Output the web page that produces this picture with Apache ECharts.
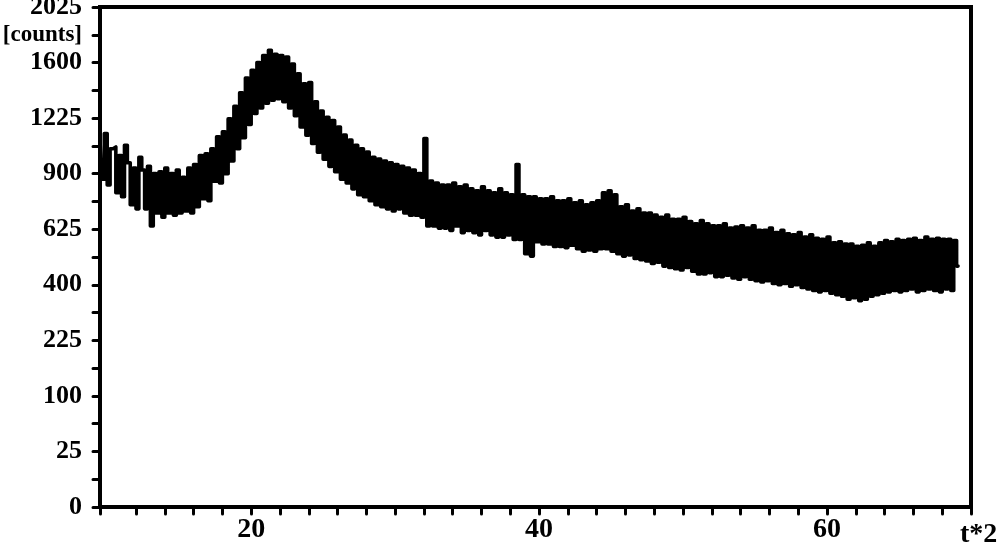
<!DOCTYPE html>
<html>
<head>
<meta charset="utf-8">
<script src="https://cdn.jsdelivr.net/npm/echarts@6/dist/echarts.min.js"></script>
<style>html,body{margin:0;padding:0;background:#fff}#c{width:1000px;height:544px}</style>
</head>
<body>
<div id="c"></div>
<script>
// Scan grid (2-theta, degrees)
const twoThetaStart = 9.5;
const twoThetaStep = 0.2;
// Intensity in counts, one value per scan step
const counts = [
 1100, 870, 1130, 840, 1040,
 1050, 800, 1000, 780, 1060,
 960, 740, 930, 720, 990,
 920, 720, 940, 640, 900,
 700, 910, 680, 930, 700,
 900, 690, 920, 700, 880,
 710, 930, 700, 950, 730,
 1000, 770, 1010, 760, 1040,
 860, 1110, 850, 1140, 900,
 1220, 970, 1300, 1040, 1390,
 1105, 1490, 1185, 1545, 1255,
 1600, 1290, 1650, 1320, 1690,
 1340, 1660, 1350, 1650, 1330,
 1640, 1290, 1590, 1240, 1520,
 1170, 1450, 1120, 1460, 1070,
 1330, 1020, 1270, 980, 1230,
 940, 1210, 910, 1170, 870,
 1120, 850, 1090, 820, 1060,
 790, 1040, 780, 1020, 760,
 990, 740, 980, 730, 970,
 720, 960, 710, 950, 720,
 940, 700, 930, 690, 920,
 690, 900, 680, 1100, 640,
 860, 640, 850, 630, 840,
 630, 840, 620, 850, 640,
 830, 610, 840, 620, 820,
 610, 810, 600, 830, 620,
 810, 600, 800, 590, 820,
 590, 800, 600, 790, 580,
 950, 580, 790, 520, 780,
 510, 780, 570, 770, 560,
 770, 560, 780, 550, 760,
 550, 760, 545, 770, 555,
 750, 540, 760, 530, 740,
 535, 750, 530, 760, 540,
 800, 540, 810, 530, 790,
 520, 730, 510, 740, 515,
 710, 500, 720, 495, 700,
 490, 700, 480, 690, 485,
 680, 470, 690, 465, 670,
 460, 670, 455, 680, 465,
 660, 450, 650, 440, 665,
 440, 650, 445, 640, 430,
 640, 430, 650, 435, 630,
 425, 635, 420, 640, 430,
 630, 420, 640, 415, 620,
 410, 620, 415, 630, 405,
 610, 400, 620, 405, 605,
 395, 600, 400, 610, 390,
 590, 385, 600, 380, 585,
 375, 580, 380, 590, 370,
 565, 365, 570, 360, 560,
 350, 560, 355, 550, 345,
 555, 350, 565, 360, 550,
 365, 565, 370, 575, 375,
 570, 380, 580, 375, 575,
 380, 580, 385, 585, 375,
 575, 380, 590, 385, 580,
 380, 585, 375, 580, 385,
 580, 380, 575, 470
];
// Axis ticks / labels
const xTickValues = [9.5,12,14,16,18,20,22,24,26,28,30,32,34,36,38,40,42,44,46,48,50,52,54,56,58,60,62,64,66,68,70];
const xLabelValues = [20, 40, 60];
const xAxisName = 't*2';
const yCountLabels = [0, 25, 100, 225, 400, 625, 900, 1225, 1600, 2025];
const yUnitLabel = '[counts]';

const seriesData = counts.map((c, i) => [twoThetaStart + i * twoThetaStep, Math.sqrt(c)]);
const labelSqrt = yCountLabels.map(v => Math.sqrt(v));

const font = 'Liberation Serif';
const chart = echarts.init(document.getElementById('c'), null, {renderer: 'canvas'});
chart.setOption({
  animation: false,
  backgroundColor: '#fff',
  grid: {left: 100, right: 29, top: 7, bottom: 37, show: true, borderColor: '#000', borderWidth: 4, containLabel: false, outerBoundsMode: 'none'},
  xAxis: {
    type: 'value', min: 9.5, max: 70,
    splitLine: {show: false},
    axisLine: {show: true, lineStyle: {color: '#000', width: 4}},
    axisTick: {show: true, customValues: xTickValues, length: 7, lineStyle: {color: '#000', width: 3, cap: 'round'}},
    axisLabel: {customValues: xLabelValues, color: '#000', fontFamily: font, fontWeight: 'bold', fontSize: 28, margin: 9},
    name: xAxisName, nameLocation: 'end', nameGap: -11,
    nameTextStyle: {color: '#000', fontFamily: font, fontWeight: 'bold', fontSize: 28, verticalAlign: 'top', align: 'left', padding: [14, 0, 0, 0]}
  },
  yAxis: {
    type: 'value', min: 0, max: 45, interval: 2.5,
    splitLine: {show: false},
    axisLine: {show: true, lineStyle: {color: '#000', width: 4}},
    axisTick: {show: true, length: 7, lineStyle: {color: '#000', width: 3, cap: 'round'}},
    axisLabel: {
      color: '#000', fontFamily: font, fontWeight: 'bold', fontSize: 26, margin: 18,
      showMinLabel: true, showMaxLabel: true,
      formatter: function (v) {
        const idx = labelSqrt.findIndex(s => Math.abs(s - v) < 1e-6);
        if (idx >= 0) return String(yCountLabels[idx]);
        if (Math.abs(v - 42.5) < 1e-6) return '{u|' + yUnitLabel + '}';
        return '';
      },
      rich: {u: {fontFamily: font, fontWeight: 'bold', fontSize: 23, color: '#000'}}
    }
  },
  series: [{
    type: 'line', data: seriesData, step: 'middle', showSymbol: false,
    lineStyle: {color: '#000', width: 3.6, cap: 'round', join: 'round'}, silent: true
  }]
});
</script>
</body>
</html>
